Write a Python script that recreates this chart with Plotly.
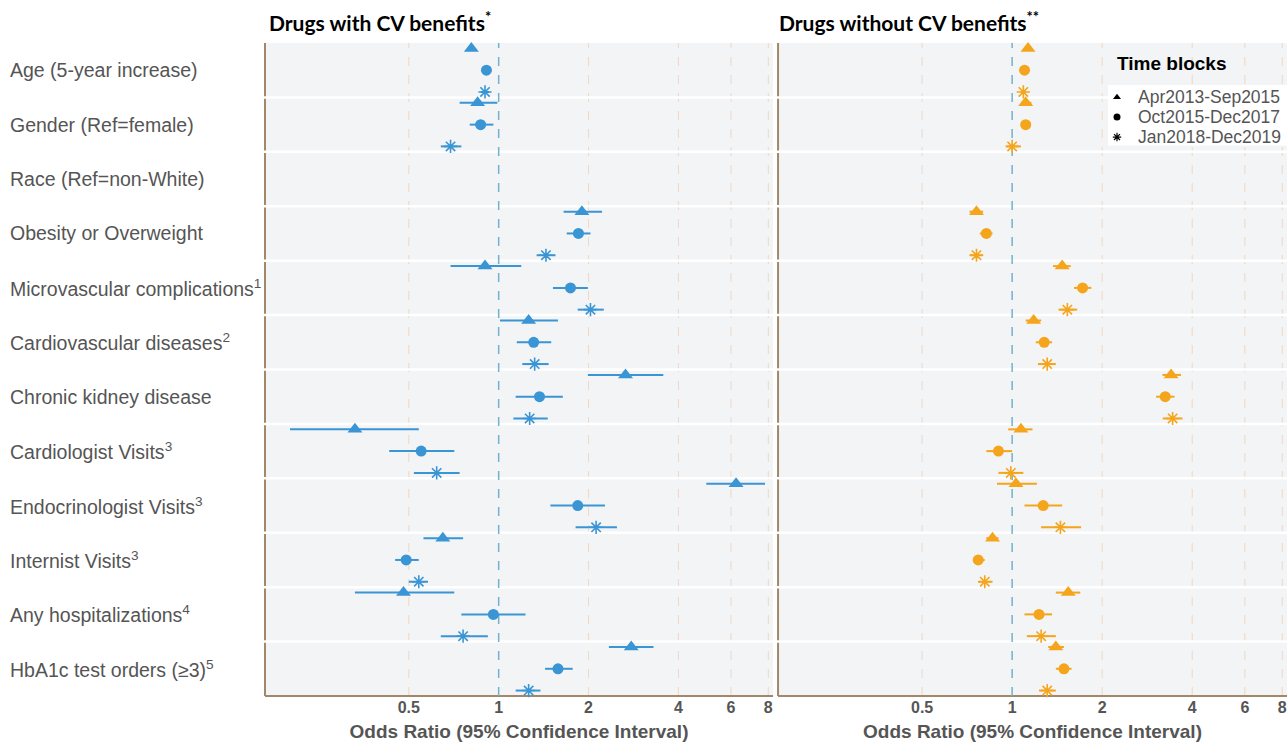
import plotly.graph_objects as go

# ---------------- data ----------------
variables = [
    "Age (5-year increase)",
    "Gender (Ref=female)",
    "Race (Ref=non-White)",
    "Obesity or Overweight",
    "Microvascular complications<sup>1</sup>",
    "Cardiovascular diseases<sup>2</sup>",
    "Chronic kidney disease",
    "Cardiologist Visits<sup>3</sup>",
    "Endocrinologist Visits<sup>3</sup>",
    "Internist Visits<sup>3</sup>",
    "Any hospitalizations<sup>4</sup>",
    "HbA1c test orders (\u22653)<sup>5</sup>",
]
periods = ["Apr2013-Sep2015", "Oct2015-Dec2017", "Jan2018-Dec2019"]

# Drugs with CV benefits
cv_p1_or = [0.81, 0.85, None, 1.90, 0.90, 1.26, 2.66, 0.33, 6.24, 0.65, 0.48, 2.78]
cv_p1_lo = [0.80, 0.74, None, 1.65, 0.69, 1.01, 1.99, 0.20, 4.96, 0.56, 0.33, 2.34]
cv_p1_hi = [0.82, 0.99, None, 2.22, 1.19, 1.58, 3.56, 0.54, 7.80, 0.76, 0.71, 3.30]
cv_p2_or = [0.91, 0.87, None, 1.85, 1.74, 1.31, 1.37, 0.55, 1.84, 0.49, 0.96, 1.58]
cv_p2_lo = [0.90, 0.80, None, 1.69, 1.52, 1.15, 1.14, 0.43, 1.49, 0.45, 0.75, 1.43]
cv_p2_hi = [0.92, 0.96, None, 2.03, 1.99, 1.50, 1.64, 0.71, 2.27, 0.54, 1.23, 1.77]
cv_p3_or = [0.90, 0.69, None, 1.44, 2.03, 1.32, 1.27, 0.62, 2.12, 0.54, 0.76, 1.26]
cv_p3_lo = [0.87, 0.64, None, 1.34, 1.84, 1.20, 1.12, 0.52, 1.81, 0.50, 0.64, 1.14]
cv_p3_hi = [0.93, 0.75, None, 1.55, 2.25, 1.47, 1.46, 0.74, 2.49, 0.58, 0.92, 1.38]

# Drugs without CV benefits
ncv_p1_or = [1.13, 1.11, None, 0.76, 1.47, 1.18, 3.40, 1.07, 1.03, 0.86, 1.54, 1.40]
ncv_p1_lo = [1.11, 1.07, None, 0.72, 1.37, 1.11, 3.18, 0.97, 0.89, 0.82, 1.40, 1.32]
ncv_p1_hi = [1.15, 1.16, None, 0.80, 1.57, 1.25, 3.67, 1.17, 1.21, 0.90, 1.69, 1.49]
ncv_p2_or = [1.10, 1.11, None, 0.82, 1.72, 1.28, 3.25, 0.90, 1.27, 0.77, 1.23, 1.49]
ncv_p2_lo = [1.08, 1.07, None, 0.78, 1.61, 1.20, 3.03, 0.82, 1.10, 0.74, 1.10, 1.40]
ncv_p2_hi = [1.12, 1.15, None, 0.86, 1.84, 1.36, 3.49, 1.00, 1.47, 0.81, 1.36, 1.58]
ncv_p3_or = [1.09, 1.00, None, 0.76, 1.53, 1.31, 3.44, 0.99, 1.45, 0.81, 1.25, 1.31]
ncv_p3_lo = [1.07, 0.96, None, 0.72, 1.43, 1.22, 3.19, 0.90, 1.25, 0.77, 1.12, 1.23]
ncv_p3_hi = [1.11, 1.07, None, 0.80, 1.65, 1.40, 3.71, 1.09, 1.70, 0.86, 1.40, 1.40]

tick_vals = [0.5, 1, 2, 4, 6, 8]
tick_text = ["0.5", "1", "2", "4", "6", "8"]

# ---------------- style ----------------
BLUE = "#3a95d5"
ORANGE = "#f5a51c"
BROWN = "#a38769"
GRID = "#efd7c3"
REF = "#72b2cc"
BG = "#f3f4f6"
LABEL = "#555555"
SYMS = ["triangle-up", "circle", "asterisk-open"]
SIZES = [13, 11, 11]
OFFS = [-0.4, 0.0, 0.4]

panels = [
    ("x", "y", BLUE, [(cv_p1_or, cv_p1_lo, cv_p1_hi), (cv_p2_or, cv_p2_lo, cv_p2_hi), (cv_p3_or, cv_p3_lo, cv_p3_hi)]),
    ("x2", "y2", ORANGE, [(ncv_p1_or, ncv_p1_lo, ncv_p1_hi), (ncv_p2_or, ncv_p2_lo, ncv_p2_hi), (ncv_p3_or, ncv_p3_lo, ncv_p3_hi)]),
]

fig = go.Figure()


def nz(a, b, f):
    return [None if (u is None or v is None) else f(u, v) for u, v in zip(a, b)]


for xa, ya, col, sets in panels:
    for j, (orv, lo, hi) in enumerate(sets):
        yv = [i + OFFS[j] for i in range(len(variables))]
        sym = SYMS[j]
        mk = dict(symbol=sym, size=SIZES[j], color=col)
        if sym == "asterisk-open":
            mk["line"] = dict(color=col, width=1.6)
        else:
            mk["line"] = dict(width=0)
        fig.add_trace(go.Scatter(
            x=orv, y=yv, xaxis=xa, yaxis=ya, mode="markers",
            marker=mk, showlegend=False, cliponaxis=False,
            error_x=dict(type="data", symmetric=False,
                         array=nz(hi, orv, lambda h, o: h - o),
                         arrayminus=nz(orv, lo, lambda o, l: o - l),
                         color=col, thickness=2, width=0),
            name=periods[j],
        ))

# ---- legend key (drawn on an invisible overlay of the right panel) ----
LEG_X = 0.666
LEG_Y = [0.917, 0.8867, 0.856]
for j, p in enumerate(periods):
    mk = dict(symbol=SYMS[j], size=7, color="black")
    if SYMS[j] == "asterisk-open":
        mk["line"] = dict(color="black", width=1.2)
    else:
        mk["line"] = dict(width=0)
    fig.add_trace(go.Scatter(x=[LEG_X], y=[LEG_Y[j]], xaxis="x3", yaxis="y3", mode="markers",
                             marker=mk, showlegend=False, hoverinfo="skip", cliponaxis=False))

XR = [-0.7827, 0.919]
axis_common = dict(
    type="log", range=XR, tickvals=tick_vals, ticktext=tick_text,
    showgrid=False, zeroline=False, showline=False, ticks="",
    tickfont=dict(family="Liberation Sans", size=16, color=LABEL, weight="bold"),
    title=dict(text="Odds Ratio (95% Confidence Interval)", standoff=11,
               font=dict(family="Liberation Sans", size=19, color=LABEL, weight="bold")),
)

shapes = []
for xa, ya in [("x", "y"), ("x2", "y2")]:
    for v in tick_vals:
        if v == 1:
            continue
        shapes.append(dict(type="line", xref=xa, x0=v, x1=v, yref=f"{ya} domain", y0=0, y1=1,
                           line=dict(color=GRID, width=1, dash="dash"), layer="below"))
    shapes.append(dict(type="line", xref=f"{xa} domain", x0=0, x1=0, yref=f"{ya} domain", y0=0, y1=1,
                       line=dict(color=BROWN, width=2), layer="below"))
    shapes.append(dict(type="line", xref=f"{xa} domain", x0=0, x1=1, yref=f"{ya} domain", y0=0, y1=0,
                       line=dict(color=BROWN, width=2), layer="below"))
    for i in range(len(variables) - 1):
        shapes.append(dict(type="line", xref=f"{xa} domain", x0=-0.005, x1=1, yref=ya, y0=i + 0.5, y1=i + 0.5,
                           line=dict(color="white", width=2.5), layer="below"))
    shapes.append(dict(type="line", xref=xa, x0=1, x1=1, yref=f"{ya} domain", y0=0, y1=1,
                       line=dict(color=REF, width=1.5, dash="dash"), layer="below"))

# white legend box
shapes.append(dict(type="rect", xref="paper", yref="paper", x0=0.8249, x1=1.0, y0=0.843, y1=0.9357,
                   fillcolor="white", line=dict(width=0), layer="below"))

annotations = []
for i, v in enumerate(variables):
    annotations.append(dict(text=v, xref="paper", x=-0.2515, xanchor="left", yref="y", y=i, yanchor="middle",
                            showarrow=False, font=dict(family="Liberation Sans", size=19.5, color=LABEL)))
annotations.append(dict(text="Drugs with CV benefits<sup>*</sup>", xref="paper", x=0.002, xanchor="left",
                        yref="paper", y=1.034, yanchor="middle", showarrow=False,
                        font=dict(family="Lato", size=21, color="black", weight="bold")))
annotations.append(dict(text="Drugs without CV benefits<sup>**</sup>", xref="paper", x=0.5005, xanchor="left",
                        yref="paper", y=1.034, yanchor="middle", showarrow=False,
                        font=dict(family="Lato", size=21, color="black", weight="bold")))
annotations.append(dict(text="Time blocks", xref="paper", x=0.8317, xanchor="left",
                        yref="paper", y=0.968, yanchor="middle", showarrow=False,
                        font=dict(family="Liberation Sans", size=19, color="black", weight="bold")))
for j, p in enumerate(periods):
    annotations.append(dict(text=p, xref="x3", x=0.7034, xanchor="left", yref="y3", y=LEG_Y[j],
                            yanchor="middle", showarrow=False,
                            font=dict(family="Liberation Sans", size=17.5, color=LABEL)))

fig.update_layout(
    width=1287, height=742,
    margin=dict(l=265, r=0, t=43, b=46),
    paper_bgcolor="white", plot_bgcolor=BG,
    xaxis=dict(domain=[0, 0.4971], anchor="y", **axis_common),
    xaxis2=dict(domain=[0.502, 1.0], anchor="y2", **axis_common),
    yaxis=dict(domain=[0, 1], range=[11.5, -0.5], anchor="x", showgrid=False, zeroline=False,
               showticklabels=False, ticks=""),
    yaxis2=dict(domain=[0, 1], range=[11.5, -0.5], anchor="x2", matches="y", showgrid=False, zeroline=False,
                showticklabels=False, ticks=""),
    xaxis3=dict(overlaying="x2", anchor="y3", range=[0, 1], visible=False, fixedrange=True),
    yaxis3=dict(overlaying="y2", anchor="x3", range=[0, 1], visible=False, fixedrange=True),
    shapes=shapes,
    annotations=annotations,
    showlegend=False,
)

fig.write_html("out.html", config={"displayModeBar": False},
               post_script="document.body.style.margin='0';document.body.style.overflow='hidden';")
